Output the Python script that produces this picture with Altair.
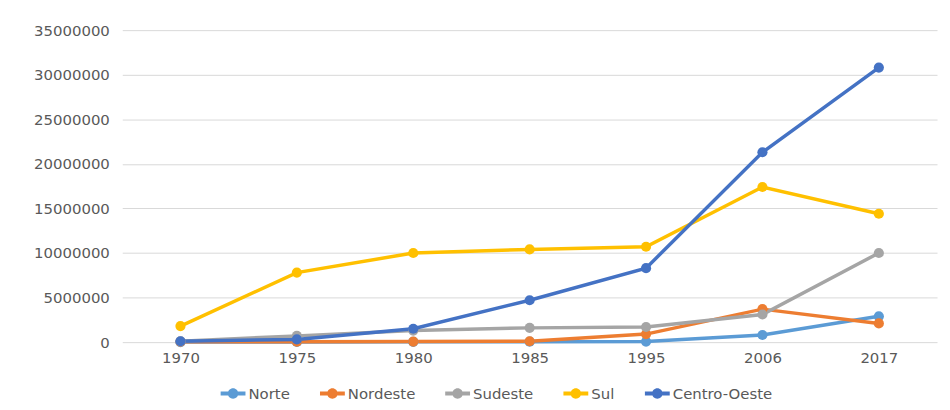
import altair as alt
import pandas as pd

years = ["1970", "1975", "1980", "1985", "1995", "2006", "2017"]
regions = ["Norte", "Nordeste", "Sudeste", "Sul", "Centro-Oeste"]
colors = ["#5B9BD5", "#ED7D31", "#A5A5A5", "#FFC000", "#4472C4"]

norte = [10000, 20000, 30000, 50000, 60000, 800000, 2900000]
nordeste = [40000, 50000, 60000, 100000, 900000, 3700000, 2100000]
sudeste = [100000, 700000, 1300000, 1600000, 1700000, 3100000, 10000000]
sul = [1800000, 7800000, 10000000, 10400000, 10700000, 17400000, 14400000]
centro_oeste = [100000, 300000, 1500000, 4700000, 8300000, 21300000, 30800000]

series = [norte, nordeste, sudeste, sul, centro_oeste]
rows = []
for reg, vals in zip(regions, series):
    for y, v in zip(years, vals):
        rows.append({"Ano": y, "Regiao": reg, "Valor": v})
df = pd.DataFrame(rows)

FONT = "DejaVu Sans"
TXT = "#595959"

sym_path = ("M-1,-0.16H1V0.16H-1Z "
            "M0.42,0A0.42,0.42,0,1,1,-0.42,0A0.42,0.42,0,1,1,0.42,0Z")

color_scale = alt.Scale(domain=regions, range=colors)

legend = alt.Legend(title=None, orient="none", direction="horizontal",
                    legendX=99, legendY=353,
                    symbolType=sym_path, symbolSize=625,
                    symbolStrokeWidth=0, symbolOpacity=1,
                    labelFont=FONT, labelFontSize=15,
                    labelColor=TXT, labelOffset=3, columnPadding=30)

x = alt.X("Ano:O", sort=years, title=None,
          scale=alt.Scale(paddingInner=0, paddingOuter=0.5),
          axis=alt.Axis(labelAngle=0, domain=False, ticks=False,
                        labelPadding=9, labelFont=FONT, labelFontSize=15,
                        labelColor=TXT))
y = alt.Y("Valor:Q", title=None,
          scale=alt.Scale(domain=[0, 35000000], nice=False),
          axis=alt.Axis(values=[0, 5000000, 10000000, 15000000, 20000000,
                                25000000, 30000000, 35000000],
                        format="d", domain=False, ticks=False,
                        labelPadding=13, labelFont=FONT, labelFontSize=15,
                        labelColor=TXT, gridColor="#d9d9d9", gridWidth=1))

color = alt.Color("Regiao:N", scale=color_scale, sort=regions, legend=legend)

base = alt.Chart(df)

lines = base.mark_line(strokeWidth=3.5).encode(
    x=x, y=y, color=color, order=alt.Order("Ano:O"),
)

points = base.mark_point(filled=True, size=105, opacity=1).encode(
    x=x, y=y, color=color,
)

chart = alt.layer(lines, points).properties(
    width=820, height=314,
    autosize=alt.AutoSizeParams(type="none"),
    padding={"left": 115, "top": 21, "right": 5, "bottom": 62},
).configure(background="white").configure_view(stroke=None)

chart.save("out.html", embed_options={"renderer": "svg", "actions": False})
